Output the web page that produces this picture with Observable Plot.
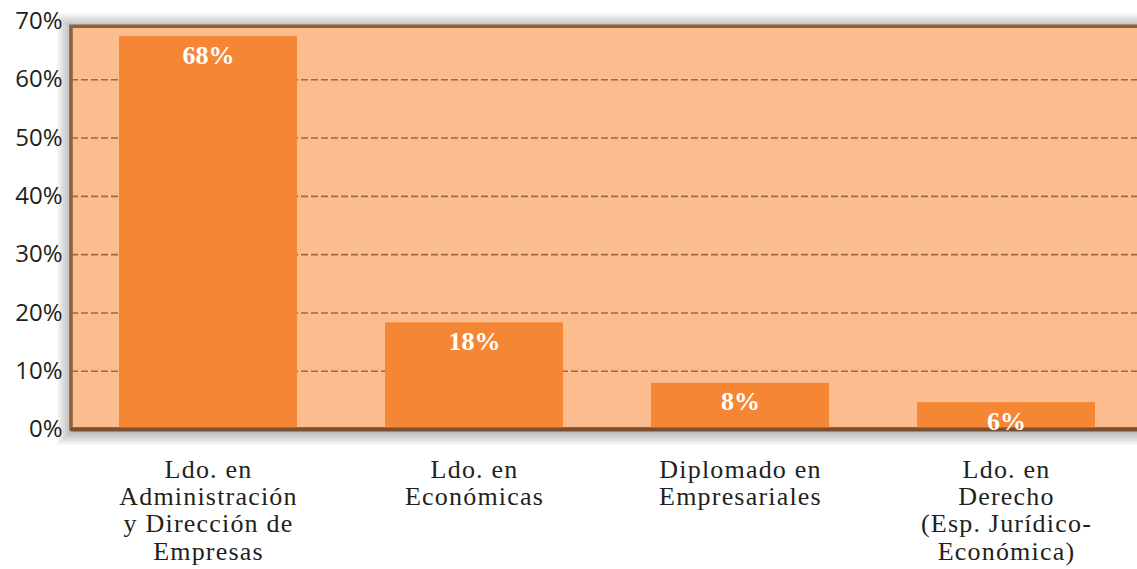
<!DOCTYPE html>
<html>
<head>
<meta charset="utf-8">
<script src="https://cdn.jsdelivr.net/npm/d3@7"></script>
<script src="https://cdn.jsdelivr.net/npm/@observablehq/plot@0.6"></script>
<style>
  html, body { margin: 0; padding: 0; background: #ffffff; overflow: hidden; }
  #chart { width: 1137px; height: 569px; overflow: hidden; }
</style>
</head>
<body>
<div id="chart"></div>
<script>
// ---- data ----
const categories = [
  "Ldo. en\nAdministración\ny Dirección de\nEmpresas",
  "Ldo. en\nEconómicas",
  "Diplomado en\nEmpresariales",
  "Ldo. en\nDerecho\n(Esp. Jurídico-\nEconómica)"
];
const values = [67.4, 18.3, 7.9, 4.6];          // bar heights as drawn (%)
const labels = ["68%", "18%", "8%", "6%"];      // printed bar labels
const yTicks = [0, 10, 20, 30, 40, 50, 60, 70];
const gridTicks = [10, 20, 30, 40, 50, 60];
const panelTop = 69.1;                           // top edge of the shaded panel (%)

const data = categories.map((c, i) => ({category: c, value: values[i], label: labels[i]}));

const colBg = "#FBBD8D";
const colBar = "#F48634";
const colBorder = "#8C5E3B";
const colGrid = "#9A6A45";
const colText = "#231F20";

// soft shadow around the panel: a stack of faint, progressively larger rects
const shadowSteps = [14, 12, 10, 8, 6, 4, 2];
const shadowMarks = shadowSteps.map(k => Plot.rect([0], {
  y1: 0, y2: panelTop, fill: "#000", fillOpacity: 0.04,
  insetTop: -(k - 1), insetBottom: -(k + 2), insetLeft: -k, insetRight: -k
}));

const chart = Plot.plot({
  width: 1142,
  height: 569,
  marginLeft: 71,
  marginRight: 0,
  marginTop: 21,
  marginBottom: 140,
  style: {maxWidth: "none", background: "transparent", overflow: "visible"},
  x: {domain: categories, paddingInner: 0.332, paddingOuter: 0.177, axis: null},
  y: {domain: [0, 70], axis: null},
  marks: [
    ...shadowMarks,
    Plot.rect([0], {y1: 0, y2: panelTop, fill: colBg, stroke: colBorder, strokeWidth: 3.5}),
    Plot.ruleY(gridTicks, {stroke: colGrid, strokeWidth: 1.6, strokeDasharray: "7,3"}),
    Plot.barY(data, {x: "category", y: "value", fill: colBar}),
    Plot.ruleY([0], {stroke: "#7A5030", strokeWidth: 4}),
    Plot.text(data, {
      x: "category", y: "value", text: "label", lineAnchor: "bottom", dy: 27,
      fill: "white", fontSize: 26, fontWeight: "bold", fontFamily: "Liberation Serif"
    }),
    Plot.text(data, {
      x: "category", y: () => 0, text: "category", lineAnchor: "top", dy: 29,
      lineHeight: 1.05, fill: colText, fontSize: 26, fontFamily: "Liberation Serif"
    }),
    Plot.axisY({
      ticks: yTicks, tickFormat: d => d + "%", tickSize: 0, tickPadding: 9,
      fontSize: 24, fontFamily: "Open Sans", fill: colText, label: null
    })
  ]
});

// letter spacing for the multi-line category labels
d3.select(chart).selectAll("text").filter(function () { return this.querySelector("tspan"); })
  .style("letter-spacing", "1.2px");

document.getElementById("chart").appendChild(chart);
</script>
</body>
</html>
